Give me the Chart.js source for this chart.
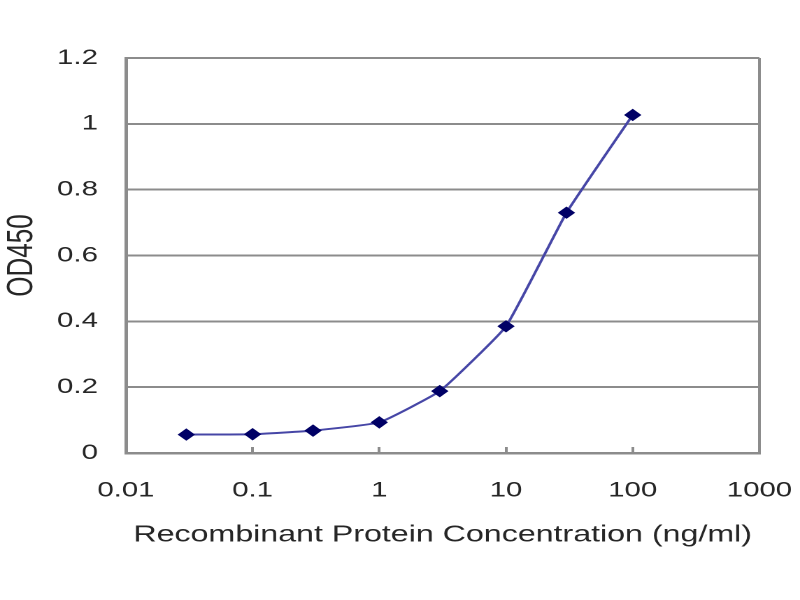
<!DOCTYPE html>
<html>
<head>
<meta charset="utf-8">
<script src="https://cdn.jsdelivr.net/npm/chart.js@4/dist/chart.umd.min.js"></script>
<style>
  html, body { margin: 0; padding: 0; background: #fff; overflow: hidden; }
  /* the reference is stretched sideways, so draw narrow and widen */
  #wrap { width: 572px; height: 600px; transform: scaleX(1.3986); transform-origin: 0 0; }
</style>
</head>
<body>
<div id="wrap"><canvas id="chart"></canvas></div>
<script>
// concentrations (ng/ml) and OD readings
var concentrations = [0.03, 0.1, 0.3, 1, 3, 10, 30, 100];
var odValues = [0.056, 0.057, 0.068, 0.093, 0.188, 0.385, 0.73, 1.027];

var xTicks = [0.01, 0.1, 1, 10, 100, 1000];
var xTickLabels = ["0.01", "0.1", "1", "10", "100", "1000"];
var yTicks = [0, 0.2, 0.4, 0.6, 0.8, 1, 1.2];
var yTickLabels = ["0", "0.2", "0.4", "0.6", "0.8", "1", "1.2"];

var textColor = "#262626";
var gridColor = "#8c8c8c";
var fontFamily = "'Liberation Sans', Arial, sans-serif";

// right edge of the plot box
var frame = {
    id: "frame",
    afterDraw: function(chart) {
        let a = chart.chartArea;
        let ctx = chart.ctx;
        ctx.save();
        ctx.strokeStyle = gridColor;
        ctx.lineWidth = 2;
        ctx.beginPath();
        ctx.moveTo(a.right, a.top);
        ctx.lineTo(a.right, a.bottom);
        ctx.stroke();
        ctx.restore();
    }
};

let points = concentrations.map(function(c, i) {
    return { x: c, y: odValues[i] };
});

let config = {
    type: "line",
    data: {
        datasets: [{
            label: "OD450",
            data: points,
            borderColor: "#4646a6",
            borderWidth: 2,
            tension: 0.12,
            pointStyle: "rectRot",
            pointRadius: 5.5,
            pointBackgroundColor: "#000066",
            pointBorderColor: "#000066",
            pointBorderWidth: 1,
        }]
    },
    options: {
        responsive: true,
        maintainAspectRatio: false,
        animation: false,
        devicePixelRatio: 2,
        layout: {
            padding: { left: 0, right: 0, top: 58, bottom: 0 }
        },
        plugins: {
            legend: { display: false },
            tooltip: { enabled: false },
        },
        scales: {
            x: {
                type: "logarithmic",
                min: 0.01,
                max: 1000,
                afterBuildTicks: function(scale) {
                    scale.ticks = xTicks.map(function(v) { return { value: v }; });
                },
                afterFit: function(scale) {
                    scale.height = 147;
                    // tick padding is only vertical room here, not side room
                    scale.paddingLeft = 0;
                    scale.paddingRight = 29;
                },
                ticks: {
                    autoSkip: false,
                    maxRotation: 0,
                    padding: 31,
                    color: textColor,
                    font: { family: fontFamily, size: 21 },
                    callback: function(value, index) {
                        return xTickLabels[index];
                    }
                },
                grid: {
                    drawOnChartArea: false,
                    drawTicks: true,
                    tickLength: -6,
                    color: gridColor,
                    lineWidth: 2,
                },
                border: { color: gridColor, width: 2.5 },
                title: {
                    display: true,
                    text: "Recombinant Protein Concentration (ng/ml)",
                    color: textColor,
                    font: { family: fontFamily, size: 23 },
                    padding: { top: 0, bottom: 51 },
                }
            },
            y: {
                min: 0,
                max: 1.2,
                afterBuildTicks: function(scale) {
                    scale.ticks = yTicks.map(function(v) { return { value: v }; });
                },
                afterFit: function(scale) {
                    scale.width = 90;
                },
                ticks: {
                    padding: 20,
                    color: textColor,
                    font: { family: fontFamily, size: 21 },
                    callback: function(value, index) {
                        return yTickLabels[index];
                    }
                },
                grid: {
                    drawTicks: false,
                    color: gridColor,
                    lineWidth: 2,
                },
                border: { color: gridColor, width: 2.5 },
                title: {
                    display: true,
                    text: "OD450",
                    color: textColor,
                    font: { family: fontFamily, size: 26 },
                    padding: 0,
                }
            }
        }
    },
    plugins: [frame]
};

const chart1 = new Chart(document.getElementById("chart"), config);
</script>
</body>
</html>
